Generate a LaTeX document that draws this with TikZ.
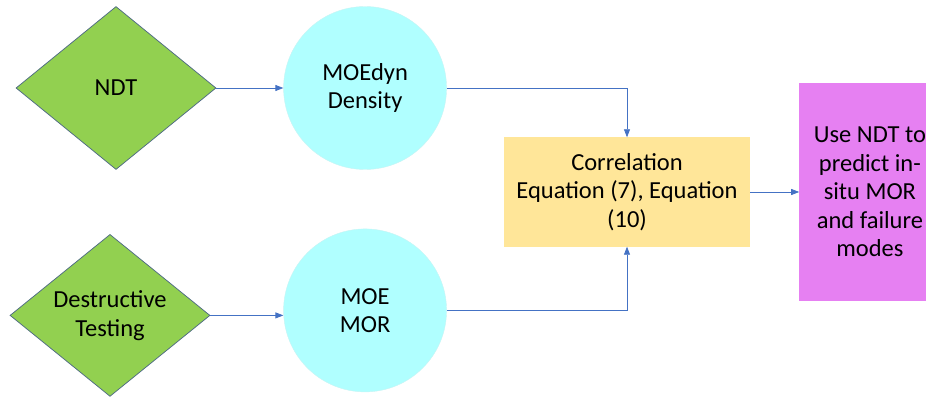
\documentclass[tikz,border=0pt]{standalone}
\usepackage{fontspec}
\setmainfont{Carlito}
\usetikzlibrary{arrows.meta,positioning,shapes.geometric}
\definecolor{testgreen}{HTML}{92D050}
\definecolor{testedge}{HTML}{4F6B84}
\definecolor{propcyan}{HTML}{B0FFFF}
\definecolor{propedge}{HTML}{C8F4F4}
\definecolor{corryellow}{HTML}{FFE699}
\definecolor{outviolet}{HTML}{E680F2}
\definecolor{flowblue}{HTML}{4472C4}

\begin{document}
\begin{tikzpicture}[x=1pt,y=-1pt,font=\fontsize{24.5}{28.5}\selectfont,
    >={Triangle[length=8pt,width=6pt]}]
    \useasboundingbox (0,0) rectangle (926,398);
    \node[diamond, draw=testedge, line width=0.75pt, fill=testgreen, aspect=1.23, minimum width=200pt, minimum height=163pt, inner sep=0pt, align=center] (ndt) at (116,88) {NDT};
    \node[circle, draw=propedge, fill=propcyan, minimum size=163pt, inner sep=0pt, align=center, right=67pt of ndt] (moedyn) {MOEdyn\\Density};
    \node[circle, draw=propedge, fill=propcyan, minimum size=163pt, inner sep=0pt, align=center, below=59pt of moedyn] (moemor) {MOE\\MOR};
    \node[diamond, draw=testedge, line width=0.75pt, fill=testgreen, aspect=1.23, minimum width=200pt, minimum height=162pt, inner sep=0pt, align=center, left=73pt of moemor, yshift=-5pt] (destr) {Destructive\\Testing};
    \node[rectangle, fill=corryellow, minimum width=246pt, minimum height=109pt, inner sep=0pt, align=center] (corr) at (627,192) {Correlation\\Equation (7), Equation\\(10)};
    \node[rectangle, fill=outviolet, minimum width=141pt, minimum height=218pt, inner sep=0pt, align=center, right=49pt of corr] (predict) {Use NDT to\\predict in-\\situ MOR\\and failure\\modes};

    \draw[->, flowblue, line width=0.75pt] (ndt) -- (moedyn);
    \draw[->, flowblue, line width=0.75pt] (destr.east) -- (destr.east -| moemor.west);
    \draw[->, flowblue, line width=0.75pt] (moedyn.east) -| (corr.north);
    \draw[->, flowblue, line width=0.75pt] (moemor.east) -| (corr.south);
    \draw[->, flowblue, line width=0.75pt] (corr) -- (predict);
\end{tikzpicture}
\end{document}
